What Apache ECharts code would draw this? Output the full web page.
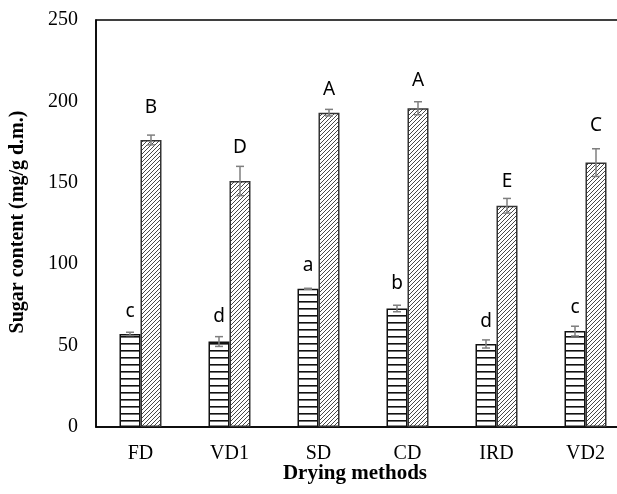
<!DOCTYPE html>
<html>
<head>
<meta charset="utf-8">
<script src="https://cdn.jsdelivr.net/npm/echarts@6/dist/echarts.min.js"></script>
<style>html,body{margin:0;padding:0;background:#fff;overflow:hidden}#c{width:632px;height:494px}</style>
</head>
<body>
<div id="c"></div>
<script>
// ---- data ----
var categories = ['FD', 'VD1', 'SD', 'CD', 'IRD', 'VD2'];
var seriesA = [57.2, 52.5, 84.9, 72.8, 51.0, 58.9];        // horizontal-line bars
var errA    = [1.0, 3.0, 0.3, 2.0, 2.5, 3.0];
var lettersA = ['c', 'd', 'a', 'b', 'd', 'c'];
var letterPosA = [70.9, 67.8, 99.0, 87.9, 64.8, 73.2];
var seriesB = [176.3, 151.1, 193.1, 195.8, 135.9, 162.4];  // hatched bars
var errB    = [3.0, 9.0, 2.0, 4.0, 4.5, 8.5];
var lettersB = ['B', 'D', 'A', 'A', 'E', 'C'];
var letterPosB = [196.2, 171.6, 207.3, 212.8, 150.7, 185.1];
var yTicks = [0, 50, 100, 150, 200, 250];

// ---- patterns ----
function hPattern() {
  var c = document.createElement('canvas'); c.width = 8; c.height = 7;
  var x = c.getContext('2d');
  x.fillStyle = '#fff'; x.fillRect(0, 0, 8, 7);
  x.fillStyle = '#111'; x.fillRect(0, 0, 8, 1.6);
  return c;
}
function dPattern() {
  var s = 4;
  var c = document.createElement('canvas'); c.width = s; c.height = s;
  var x = c.getContext('2d');
  x.fillStyle = '#fff'; x.fillRect(0, 0, s, s);
  x.strokeStyle = '#333'; x.lineWidth = 0.9;
  x.beginPath();
  x.moveTo(-1, s + 1); x.lineTo(s + 1, -1);
  x.moveTo(-1, 1); x.lineTo(1, -1);
  x.moveTo(s - 1, s + 1); x.lineTo(s + 1, s - 1);
  x.stroke();
  return c;
}

var BW = 21;
var chart = echarts.init(document.getElementById('c'), null, {renderer: 'canvas'});

var errData = [];
var lblData = [];
for (var i = 0; i < categories.length; i++) {
  errData.push([i, seriesA[i], errA[i], 0]);
  errData.push([i, seriesB[i], errB[i], 1]);
  lblData.push([i, letterPosA[i], 0, lettersA[i]]);
  lblData.push([i, letterPosB[i], 1, lettersB[i]]);
}

var option = {
  animation: false,
  grid: {left: 96, width: 534, top: 20, height: 407, show: true, borderColor: '#000', borderWidth: 1.5, backgroundColor: 'transparent'},
  xAxis: {
    type: 'category', data: categories,
    axisLine: {lineStyle: {color: '#000', width: 1.5}},
    axisTick: {show: false},
    axisLabel: {color: '#000', fontFamily: 'Liberation Serif', fontSize: 20, margin: 17}
  },
  yAxis: {
    type: 'value', min: yTicks[0], max: yTicks[yTicks.length - 1], interval: 50,
    axisLine: {show: true, lineStyle: {color: '#000', width: 1.5}},
    axisTick: {show: false},
    splitLine: {show: false},
    axisLabel: {color: '#000', fontFamily: 'Liberation Serif', fontSize: 20, margin: 18}
  },
  series: [
    {
      type: 'bar', data: seriesA, barWidth: BW, barGap: '0%',
      itemStyle: {color: {image: hPattern(), repeat: 'repeat'}, borderColor: '#111', borderWidth: 1.5}
    },
    {
      type: 'bar', data: seriesB, barWidth: BW, barGap: '0%',
      itemStyle: {color: {image: dPattern(), repeat: 'repeat'}, borderColor: '#333', borderWidth: 1.5}
    },
    {
      type: 'custom', data: errData, z: 10,
      renderItem: function (params, api) {
        var cat = api.value(0), v = api.value(1), e = api.value(2), s = api.value(3);
        var off = s === 0 ? -BW / 2 : BW / 2;
        var top = api.coord([cat, v + e]);
        var bot = api.coord([cat, v - e]);
        var x = top[0] + off;
        var st = {stroke: '#7f7f7f', lineWidth: 1.5};
        return {type: 'group', children: [
          {type: 'line', shape: {x1: x, y1: top[1], x2: x, y2: bot[1]}, style: st},
          {type: 'line', shape: {x1: x - 4, y1: top[1], x2: x + 4, y2: top[1]}, style: st},
          {type: 'line', shape: {x1: x - 4, y1: bot[1], x2: x + 4, y2: bot[1]}, style: st}
        ]};
      }
    },
    {
      type: 'custom', data: lblData, z: 11,
      renderItem: function (params, api) {
        var cat = api.value(0), y = api.value(1), s = api.value(2);
        var txt = lblData[params.dataIndex][3];
        var p = api.coord([cat, y]);
        var off = s === 0 ? -BW / 2 : BW / 2;
        return {type: 'text', x: p[0] + off, y: p[1], style: {
          text: txt, fill: '#000', font: '19px "Noto Sans"', align: 'center', verticalAlign: 'middle'
        }};
      }
    }
  ],
  graphic: [
    {type: 'text', x: 355, y: 474, style: {text: 'Drying methods', fill: '#000', font: 'bold 21px "Liberation Serif"', align: 'center', verticalAlign: 'middle'}},
    {type: 'text', x: 18, y: 222, rotation: Math.PI / 2, style: {text: 'Sugar content (mg/g d.m.)', fill: '#000', font: 'bold 20px "Liberation Serif"', align: 'center', verticalAlign: 'middle'}}
  ]
};
chart.setOption(option);
</script>
</body>
</html>
